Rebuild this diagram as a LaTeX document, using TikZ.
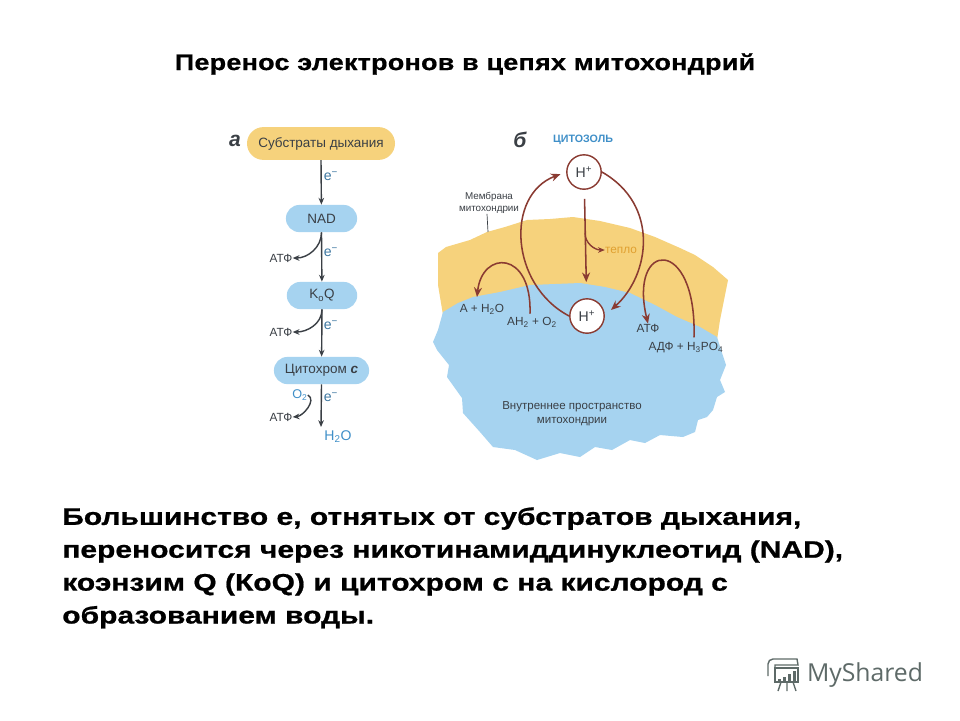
\documentclass[tikz,border=0pt]{standalone}
\usepackage{fontspec}
\setmainfont{Liberation Sans}
\newfontface\titlefont[FakeStretch=1.2,LetterSpace=1,FakeBold=0.6]{Liberation Sans Bold}
\newfontface\bodyfont[FakeStretch=1.255,FakeBold=0.8]{Liberation Sans Bold}
\newfontfamily\logofont{Open Sans}
\usetikzlibrary{shapes.misc,arrows.meta}
\begin{document}
\begin{tikzpicture}[x=0.25mm,y=-0.25mm,
  chainbox/.style={rounded rectangle,inner sep=0,minimum height=6.8mm,font=\fontsize{9.6}{11}\selectfont,text=inktext},
  small/.style={font=\fontsize{8.4}{10}\selectfont,text=inktext,inner sep=0},
  tiny/.style={font=\fontsize{7}{8.6}\selectfont,text=inktext,inner sep=0},
  hplus/.style={circle,draw=brick,fill=white,line width=1pt,minimum size=8.6mm,inner sep=0,font=\fontsize{10}{12}\selectfont,text=inktext},
  flow/.style={-{Stealth[length=1.7mm,width=1.4mm]},draw=inktext,line width=1pt},
  looparc/.style={-{Stealth[length=2.4mm,width=2mm]},draw=brick,line width=1.1pt}]
\definecolor{inktext}{HTML}{3A3F45}
\definecolor{brick}{HTML}{8A3B32}
\definecolor{paleblue}{HTML}{A6D3F0}
\definecolor{paleyellow}{HTML}{F6D27C}
\definecolor{sky}{HTML}{3F8FC8}
\definecolor{heat}{HTML}{E0A030}
\definecolor{logogray}{HTML}{5E6A68}
\useasboundingbox (0,0) rectangle (960,720);
\fill[white] (0,0) rectangle (960,720);
\node (title) at (465,64) {\titlefont\fontsize{16}{19}\selectfont Перенос электронов в цепях митохондрий};
\node[anchor=north west,inner sep=0,align=left,font=\bodyfont\fontsize{17}{23.4}\selectfont] (body) at (62,507)
  {Большинство е, отнятых от субстратов дыхания,\\
   переносится через никотинамиддинуклеотид (NAD),\\
   коэнзим Q (КоQ) и цитохром с на кислород с\\
   образованием воды.};
% membrane and matrix
\fill[paleyellow] (438,253) -- (446,247) -- (470,240) -- (487,232) -- (505,227) -- (527,220) -- (550,219) -- (573,217)
  -- (600,221) -- (630,228) -- (655,237) -- (680,248) -- (695,255) -- (713,267) -- (728,280) -- (724,300) -- (720,320)
  -- (717,340) -- (443,315) -- (438,285) -- cycle;
\fill[paleblue] (433,342) -- (438,330) -- (443,312) -- (458,303) -- (473,297) -- (500,292) -- (530,285) -- (555,284) -- (580,283)
  -- (605,287) -- (630,293) -- (655,305) -- (677,317) -- (700,327) -- (717,337) -- (722,353) -- (726,365) -- (720,380)
  -- (725,392) -- (717,397) -- (713,410) -- (707,417) -- (698,420) -- (695,432) -- (683,437) -- (660,435) -- (645,443)
  -- (630,440) -- (612,450) -- (595,447) -- (580,457) -- (560,453) -- (537,460) -- (515,450) -- (493,447) -- (480,432)
  -- (463,413) -- (462,398) -- (447,377) -- (449,365) -- (437,350) -- cycle;
% left chain
\node[chainbox,fill=paleyellow,minimum width=37mm,minimum height=8.2mm] (subs) at (321,143.5) {Субстраты дыхания};
\node[chainbox,fill=paleblue,minimum width=17.8mm] (nad) at (321.5,218.5) {NAD};
\node[chainbox,fill=paleblue,minimum width=17.6mm] (koq) at (322,295.5) {K\textsubscript{o}Q};
\node[chainbox,fill=paleblue,minimum width=23.8mm] (cyt) at (321.5,370.5) {Цитохром \textbf{\textit{с}}};
\node[small,text=sky,font=\fontsize{10}{12}\selectfont] (water) at (338,437) {H\textsubscript{2}O};
\node[small,text=sky,font=\fontsize{9}{10}\selectfont] (otwo) at (300,395) {O\textsubscript{2}};
\coordinate (end) at (321,427);
\foreach \from/\to/\name/\pos in {subs/nad/ea/176,nad/koq/eb/252,koq/cyt/ec/325,cyt/end/ed/397}
{  \draw[flow] (\from.south) -- (\to);
   \node[small,text=sky!70!inktext,font=\fontsize{10}{12}\selectfont] (\name) at (331,\pos) {е\textsuperscript{−}};}
\node[small] (atpa) at (281,258) {АТФ};
\node[small] (atpb) at (281,332) {АТФ};
\node[small] (atpc) at (281,417) {АТФ};
\draw[flow] (nad.south) to[out=-90,in=0] (atpa.east);
\draw[flow] (koq.south) to[out=-90,in=0] (atpb.east);
\draw[flow] (otwo.east) to[out=-30,in=5] (atpc.east);
\node[inner sep=0,font=\fontsize{15}{15}\selectfont\bfseries\itshape,text=inktext] (lbla) at (235,141) {а};
\node[inner sep=0,font=\fontsize{15}{15}\selectfont\bfseries\itshape,text=inktext] (lblb) at (520,140) {б};
% right picture
\node[small,text=sky,font=\fontsize{7.6}{9}\selectfont\bfseries] (cyto) at (583,140) {ЦИТОЗОЛЬ};
\node[hplus] (hup) at (584,172) {H\textsuperscript{+}};
\node[hplus] (hdown) at (587,316) {H\textsuperscript{+}};
\node[tiny,align=center] (memb) at (489,203) {Мембрана\\митохондрии};
\coordinate (membend) at (488,232);
\draw[inktext,line width=0.5pt] (memb.south) ++(-2,0) -- (membend);
\node[tiny,text=heat,font=\fontsize{8.4}{10}\selectfont] (warm) at (621,250) {тепло};
\node[small] (aw) at (482,309) {А + Н\textsubscript{2}O};
\node[small] (ao) at (532,322) {АН\textsubscript{2} + O\textsubscript{2}};
\node[small] (atpd) at (648,328) {АТФ};
\node[small] (adp) at (686,348) {АДФ + H\textsubscript{3}PO\textsubscript{4}};
\node[tiny,align=center,font=\fontsize{8.2}{10}\selectfont] (inner) at (572,414) {Внутреннее пространство\\митохондрии};
\draw[looparc,shorten >=1.5mm] (hdown.west) .. controls (510,285) and (505,195) .. (hup.west);
\draw[looparc] (hup.east) .. controls (660,205) and (650,275) .. (611,310);
\draw[looparc,shorten >=4mm,shorten <=2.25mm] (hup) -- (hdown);
\draw[-{Stealth[length=1.7mm,width=1.4mm]},draw=brick,line width=1pt] (585,233) to[out=-90,in=180] (warm.west);
\draw[looparc] (ao.north) ++(-2,-3) .. controls (532,250) and (482,250) .. (477,297);
\draw[looparc] (adp.north) ++(8,-5) .. controls (697,235) and (628,240) .. (atpd.north);
% logo
\node[inner sep=0,text=logogray,font=\logofont\fontsize{17.6}{20}\selectfont] (logo) at (865,675) {MyShared};
\draw[logogray,line width=1pt,fill=white] (775,668) rectangle (798,682);
\draw[logogray,line width=1pt] (768,676) -- (768,664) to[out=90,in=180] (773,659) -- (797,659) -- (798,665) -- (775,665) -- (775,668);
\foreach \px/\py in {778/679,783/677,788/674,793/671}
{  \fill[logogray] (\px,682) rectangle ++(3,\py-682);}
\draw[logogray,line width=1pt] (781,682) -- (778,691) (787,682) -- (787,691) (793,682) -- (796,691);
\end{tikzpicture}
\end{document}
